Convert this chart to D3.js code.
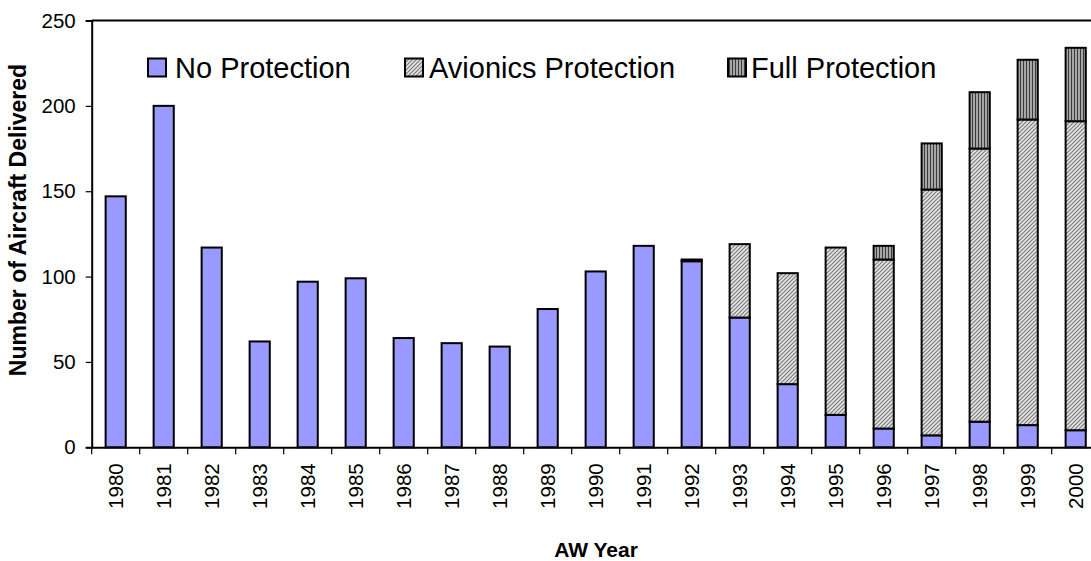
<!DOCTYPE html>
<html><head><meta charset="utf-8">
<script src="https://cdn.jsdelivr.net/npm/d3@7/dist/d3.min.js"></script>
<style>html,body{margin:0;padding:0;background:#fff;}svg{display:block;font-family:"Liberation Sans",Arial,sans-serif;}</style>
</head><body><svg id="chart" width="1091" height="561"></svg>
<script>
const years = ["1980","1981","1982","1983","1984","1985","1986","1987","1988","1989","1990","1991","1992","1993","1994","1995","1996","1997","1998","1999","2000"];
const noProtection       = [147,200,117,62,97,99,64,61,59,81,103,118,109,76,37,19,11,7,15,13,10];
const avionicsProtection = [0,0,0,0,0,0,0,0,0,0,0,0,1,43,65,98,99,144,160,179,181];
const fullProtection     = [0,0,0,0,0,0,0,0,0,0,0,0,0,0,0,0,8,27,33,35,43];
const seriesNames = ["No Protection","Avionics Protection","Full Protection"];
const yTicks = [0,50,100,150,200,250];

(function(){
const svg = d3.select("#chart");
const mLeft = 91.7, mTop = 20.5, mBottom = 447.3, step = 48;
const mRight = mLeft + step * years.length;

const defs = svg.append("defs");
const pA = defs.append("pattern").attr("id","pAv").attr("patternUnits","userSpaceOnUse").attr("width",4).attr("height",4);
pA.append("rect").attr("width",4).attr("height",4).attr("fill","#e4e4e4");
pA.append("path").attr("d","M-1,1 L1,-1 M0,4 L4,0 M3,5 L5,3").attr("stroke","#777").attr("stroke-width",1.1);
const pF = defs.append("pattern").attr("id","pFull").attr("patternUnits","userSpaceOnUse").attr("width",3).attr("height",3);
pF.append("rect").attr("width",3).attr("height",3).attr("fill","#a6a6a6");
pF.append("rect").attr("x",0).attr("width",1).attr("height",3).attr("fill","#3c3c3c");
const fills = ["#9999ff","url(#pAv)","url(#pFull)"];

const x = d3.scaleBand().domain(years).range([mLeft, mRight]).paddingInner(0).paddingOuter(0);
const y = d3.scaleLinear().domain([0,250]).range([mBottom, mTop]);
const barW = x.bandwidth() * 0.42;

const rows = years.map((yr,i)=>({year:yr, "No Protection":noProtection[i], "Avionics Protection":avionicsProtection[i], "Full Protection":fullProtection[i]}));
const stack = d3.stack().keys(seriesNames)(rows);

stack.forEach((s,si)=>{
  svg.append("g").selectAll("rect").data(s.filter(d=>d[1]-d[0]>0)).join("rect")
    .attr("x", d=>x(d.data.year) + (x.bandwidth()-barW)/2)
    .attr("y", d=>y(d[1]))
    .attr("width", barW)
    .attr("height", d=>y(d[0])-y(d[1]))
    .attr("fill", fills[si])
    .attr("stroke","#000").attr("stroke-width",2);
});

svg.append("line").attr("x1",mLeft).attr("x2",mRight).attr("y1",mTop).attr("y2",mTop).attr("stroke","#000").attr("stroke-width",2);
svg.append("line").attr("x1",mRight).attr("x2",mRight).attr("y1",mTop).attr("y2",mBottom).attr("stroke","#000").attr("stroke-width",2);

const yAx = svg.append("g").attr("transform",`translate(${mLeft},0)`)
  .call(d3.axisLeft(y).tickValues(yTicks).tickSize(6).tickPadding(10).tickFormat(d3.format("d")));
yAx.select(".domain").attr("stroke","#000").attr("stroke-width",2);
yAx.selectAll(".tick line").attr("stroke","#000").attr("stroke-width",1.2);
yAx.selectAll("text").attr("font-size","20.5px").attr("fill","#000").attr("font-family","Liberation Sans, Arial, sans-serif");

const xAx = svg.append("g").attr("transform",`translate(0,${mBottom})`)
  .call(d3.axisBottom(x).tickSize(0).tickFormat(d=>d));
xAx.select(".domain").attr("stroke","#000").attr("stroke-width",2);
xAx.selectAll(".tick text")
  .attr("font-size","20.5px").attr("fill","#000").attr("font-family","Liberation Sans, Arial, sans-serif")
  .attr("transform","rotate(-90)").attr("text-anchor","end").attr("x",-16).attr("y",0).attr("dy","0.35em");
svg.append("g").selectAll("line").data(years.concat(["end"])).join("line")
  .attr("x1",(d,i)=> i<years.length ? x(d) : mRight).attr("x2",(d,i)=> i<years.length ? x(d) : mRight)
  .attr("y1",mBottom).attr("y2",mBottom+7).attr("stroke","#000").attr("stroke-width",1.2);

svg.append("text").attr("x",596).attr("y",557).attr("text-anchor","middle")
  .attr("font-size","21px").attr("font-weight","bold").text("AW Year");
svg.append("text").attr("transform","translate(26,220) rotate(-90)").attr("text-anchor","middle")
  .attr("font-size","23px").attr("font-weight","bold").text("Number of Aircraft Delivered");

const legendPos = [{sx:148, tx:175},{sx:405, tx:429},{sx:728, tx:751}];
const lg = svg.append("g");
seriesNames.forEach((n,i)=>{
  lg.append("rect").attr("x",legendPos[i].sx).attr("y",58.5).attr("width",18).attr("height",18)
    .attr("fill",fills[i]).attr("stroke","#000").attr("stroke-width",2);
  lg.append("text").attr("x",legendPos[i].tx).attr("y",77.5).attr("font-size","29px").attr("fill","#000").text(n);
});
})();
</script></body></html>
